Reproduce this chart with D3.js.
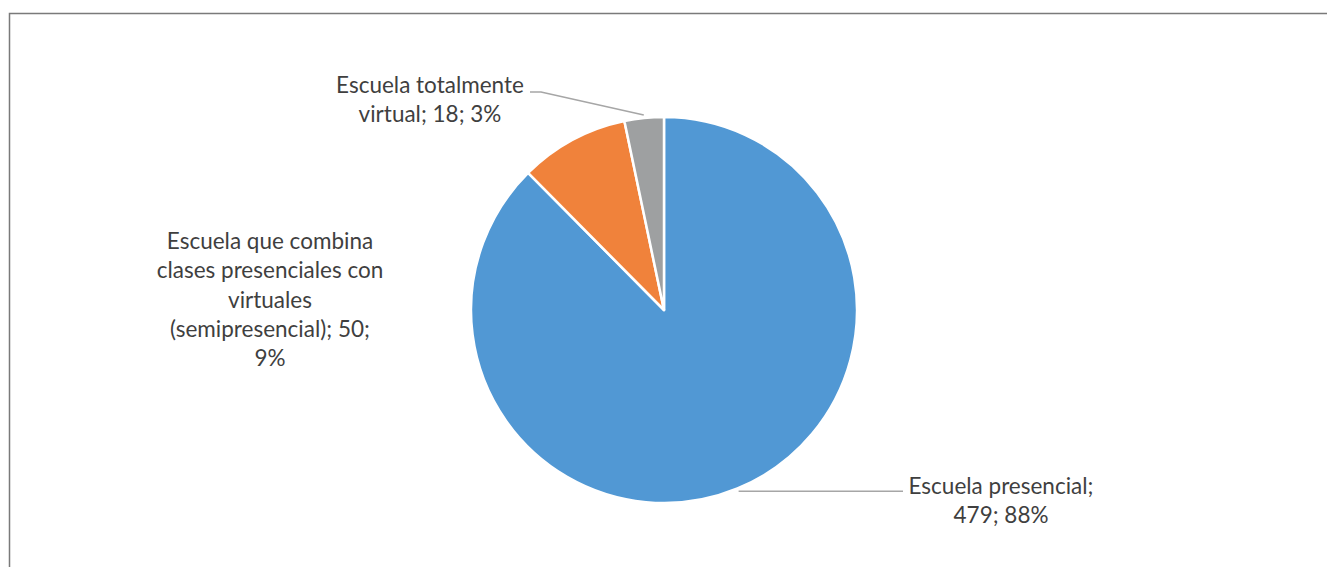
<!DOCTYPE html>
<html>
<head>
<meta charset="utf-8">
<script src="https://cdn.jsdelivr.net/npm/d3@7"></script>
<style>
  html, body { margin: 0; padding: 0; background: #fff; }
  svg { display: block; }
</style>
</head>
<body>
<svg id="chart" width="1327" height="567"></svg>
<script>
// Tipo de escuela: categorías, cantidades y colores
const categories = [
  "Escuela presencial",
  "Escuela que combina clases presenciales con virtuales (semipresencial)",
  "Escuela totalmente virtual"
];
const values = [479, 50, 18];
const colors = ["#5198D4", "#F0823B", "#9EA0A1"];

const svg = d3.select("#chart");
const W = 1327, H = 567;

// Chart frame (cropped at right and bottom)
svg.append("path")
  .attr("d", `M9.5,${H} V13.5 H${W}`)
  .attr("fill", "none")
  .attr("stroke", "#7a7a7a")
  .attr("stroke-width", 1.5);

const cx = 664, cy = 310, R = 193;
const total = d3.sum(values);
const data = categories.map((c, i) => ({ cat: c, value: values[i], color: colors[i] }));

const pie = d3.pie().sort(null).value(d => d.value);
const arcs = pie(data);
const arc = d3.arc().innerRadius(0).outerRadius(R);

const g = svg.append("g").attr("transform", `translate(${cx},${cy})`);
g.selectAll("path.slice")
  .data(arcs)
  .join("path")
  .attr("class", "slice")
  .attr("d", arc)
  .attr("fill", d => d.data.color)
  .attr("stroke", "#fff")
  .attr("stroke-width", 2.5)
  .attr("stroke-linejoin", "round");

const pct = v => Math.round(v / total * 100) + "%";
const font = "Lato, 'Open Sans', sans-serif";

// Label lines per slice
const labelLines = [
  ["Escuela presencial;", `${values[0]}; ${pct(values[0])}`],
  ["Escuela que combina", "clases presenciales con", "virtuales", `(semipresencial); ${values[1]};`, pct(values[1])],
  ["Escuela totalmente", `virtual; ${values[2]}; ${pct(values[2])}`]
];
const labelPos = [
  { x: 1001, y: 494 },
  { x: 270, y: 249 },
  { x: 430, y: 93 }
];
const lineH = 29.3;

labelLines.forEach((lines, i) => {
  const t = svg.append("text")
    .attr("text-anchor", "middle")
    .attr("font-family", font)
    .attr("font-size", 22.5)
    .attr("fill", "#3f3f3f");
  lines.forEach((s, j) => {
    t.append("tspan")
      .attr("x", labelPos[i].x)
      .attr("y", labelPos[i].y + j * lineH)
      .text(s);
  });
});

// Leader lines from the slice edge to the labels
const edgePoint = (a, r) => [cx + r * Math.sin(a), cy - r * Math.cos(a)];
const leader = d3.line();
const aPres = (arcs[0].startAngle + arcs[0].endAngle) / 2;
const pPres = edgePoint(aPres, R + 3);
svg.append("path")
  .attr("d", leader([pPres, [903, pPres[1]]]))
  .attr("fill", "none").attr("stroke", "#a6a6a6").attr("stroke-width", 1.5);

const aVirt = (arcs[2].startAngle + arcs[2].endAngle) / 2;
const pVirt = edgePoint(aVirt, R + 3);
svg.append("path")
  .attr("d", leader([[530, 92], [541, 92], pVirt]))
  .attr("fill", "none").attr("stroke", "#a6a6a6").attr("stroke-width", 1.5);
</script>
</body>
</html>
